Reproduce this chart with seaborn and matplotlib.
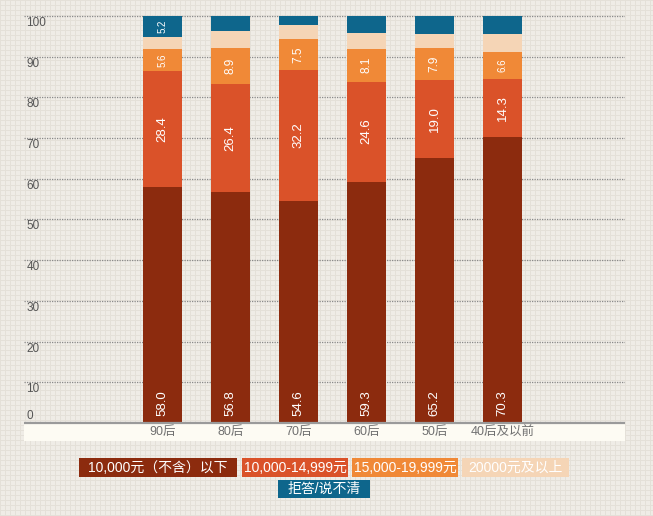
import numpy as np
import pandas as pd
import matplotlib
matplotlib.use("Agg")
import matplotlib.pyplot as plt
import seaborn as sns
from matplotlib.patches import Rectangle

# ---- data ----
categories = ['90后', '80后', '70后', '60后', '50后', '40后及以前']
below_10k = [58.0, 56.8, 54.6, 59.3, 65.2, 70.3]
k10_15 = [28.4, 26.4, 32.2, 24.6, 19.0, 14.3]
k15_20 = [5.6, 8.9, 7.5, 8.1, 7.9, 6.6]
above_20k = [2.8, 4.2, 3.5, 3.9, 3.4, 4.4]
refused = [5.2, 3.7, 2.2, 4.1, 4.5, 4.4]
series_names = ['10,000元（不含）以下', '10,000-14,999元', '15,000-19,999元', '20000元及以上', '拒答/说不清']
yticks = [0, 10, 20, 30, 40, 50, 60, 70, 80, 90, 100]

colors = ['#8C2B0E', '#DA5229', '#F08937', '#F5D5B6', '#0E668C']

sns.set_theme(style='white')
plt.rcParams['font.family'] = ['Liberation Sans', 'Noto Sans CJK SC', 'DejaVu Sans']

W, H = 653, 516
fig = plt.figure(figsize=(W / 100, H / 100), dpi=100)

# background texture
bg = fig.add_axes([0, 0, 1, 1], zorder=-10)
yy, xx = np.mgrid[0:H, 0:W]
img = np.ones((H, W, 3)) * np.array([239, 236, 230]) / 255
mask = (yy % 5 == 0) | (xx % 5 == 0)
img[mask] = np.array([228, 224, 216]) / 255
bg.imshow(img, aspect='auto', interpolation='nearest')
bg.axis('off')

# main axes: px box left 24, right 625, top 10, bottom 441
ax = fig.add_axes([24 / W, (H - 441) / H, (625 - 24) / W, (441 - 10) / H])
ax.patch.set_alpha(0)

series = [below_10k, k10_15, k15_20, above_20k, refused]
cums = np.cumsum(np.array(series), axis=0)

# draw layers from top to bottom
for i in range(len(series) - 1, -1, -1):
    df = pd.DataFrame({'cat': categories, 'val': cums[i]})
    sns.barplot(data=df, x='cat', y='val', order=categories, color=colors[i],
                saturation=1, width=0.574, errorbar=None, ax=ax, zorder=3,
                linewidth=0)

ax.set_xlim(-2.037, 6.80)
ax.set_ylim(-4.42, 101.47)
for s in ax.spines.values():
    s.set_visible(False)
ax.set_xticks([])
ax.set_yticks([])
ax.set_xlabel('')
ax.set_ylabel('')

# category band
ax.axhspan(-4.42, 0, color='#FDFBF3', zorder=1)
ax.axhline(0, color='#9A9A9A', lw=1.6, zorder=4)

# dotted gridlines
for v in yticks[1:]:
    ax.axhline(v, color='#8A8A8A', lw=0.9, ls=(0, (1, 1)), zorder=2)

# y tick labels
for v in yticks:
    yv = v - 1.7 if v > 0 else 1.7
    ax.text(0.004, yv, str(v), transform=ax.get_yaxis_transform(), ha='left',
            va='center', fontsize=8.5, color='#555555', zorder=5)

# category labels
for j, c in enumerate(categories):
    ax.text(j, -2.2, c, ha='center', va='center', fontsize=9, color='#707070', zorder=5)

# value labels
for i, s in enumerate(series):
    for j, v in enumerate(s):
        if v < 5:
            continue
        bottom = cums[i][j] - v
        if i == 0:
            yv = 4.8
        else:
            yv = bottom + v / 2
        fs = 7 if v < 7 else (8.5 if v < 10 else 9.5)
        ax.text(j, yv, f'{v:.1f}', rotation=90, ha='center', va='center',
                fontsize=fs, color='white', zorder=6)

# legend boxes (pixel positions)
boxes = [(79, 458, 237, 477), (242, 458, 348, 477), (352, 458, 458, 477),
         (462, 458, 569, 477), (278, 480, 370, 498)]
for (x0, y0, x1, y1), name, c in zip(boxes, series_names, colors):
    fig.patches.append(Rectangle((x0 / W, 1 - y1 / H), (x1 - x0) / W, (y1 - y0) / H,
                                 transform=fig.transFigure, facecolor=c,
                                 edgecolor='none', zorder=5))
    fig.text((x0 + x1) / 2 / W, 1 - (y0 + y1) / 2 / H, name, ha='center', va='center',
             fontsize=10, color='white', zorder=6)

fig.savefig('out.png', dpi=100)
